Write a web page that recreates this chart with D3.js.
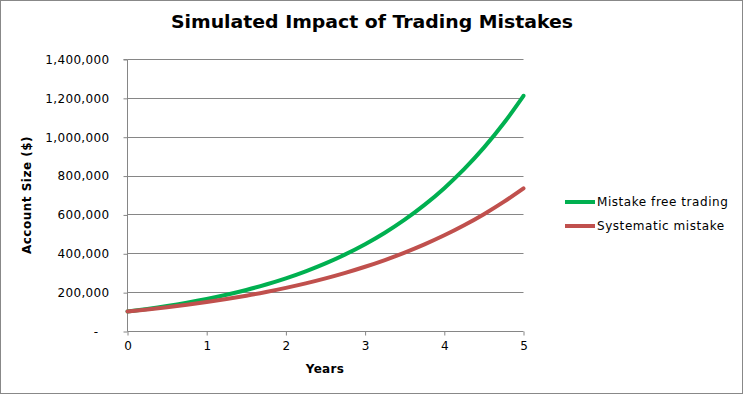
<!DOCTYPE html>
<html><head><meta charset="utf-8">
<script src="https://cdn.jsdelivr.net/npm/d3@7"></script>
<style>body{margin:0;background:#fff}svg{display:block}</style>
</head><body>
<svg id="c" width="745" height="395"></svg>
<script>
const years = [0,0.25,0.5,0.75,1,1.25,1.5,1.75,2,2.25,2.5,2.75,3,3.25,3.5,3.75,4,4.25,4.5,4.75,5];
const mistakeFree = [100000,113300,128300,145400,164700,186500,211300,239400,271200,307200,348000,394200,446500,505800,573000,649100,735300,832900,943600,1068900,1210800];
const systematic = [100000,110500,122100,134900,149000,164600,181800,200900,222000,245200,270900,299300,330700,365300,403600,445900,492600,544300,601300,664300,733900];
const yTicks = [0,200000,400000,600000,800000,1000000,1200000,1400000];
const xTicks = [0,1,2,3,4,5];
const seriesNames = ["Mistake free trading","Systematic mistake"];
const colors = ["#00B050","#C0504D"];

const svg = d3.select("#c");
const font = "Verdana, 'DejaVu Sans', sans-serif";
svg.append("rect").attr("x",0.5).attr("y",0.5).attr("width",742).attr("height",393)
  .attr("fill","#fff").attr("stroke","#888888");

const x = d3.scaleLinear().domain([0,5]).range([127.5,523.5]);
const y = d3.scaleLinear().domain([0,1400000]).range([331,59]);

// gridlines
svg.append("g").selectAll("line").data(yTicks.slice(1)).join("line")
  .attr("x1",127.5).attr("x2",523.5)
  .attr("y1",d=>Math.round(y(d))+0.5).attr("y2",d=>Math.round(y(d))+0.5)
  .attr("stroke","#868686");

// y axis
const yAxis = d3.axisLeft(y).tickValues(yTicks).tickSize(4).tickPadding(14)
  .tickFormat(d=> d===0 ? "-" : d3.format(",")(d));
const gy = svg.append("g").attr("transform","translate(127.5,0.5)").call(yAxis);
gy.select(".domain").attr("stroke","#868686").attr("d","M-4,"+y(1400000)+"H0V"+y(0));
gy.selectAll(".tick line").attr("stroke","#868686");
gy.selectAll("text").attr("font-family",font).attr("font-size",12).attr("fill","#000").attr("letter-spacing",0.35);
gy.selectAll(".tick").filter(d=>d===0).select("text").attr("dx",-11);

// x axis
const xAxis = d3.axisBottom(x).tickValues(xTicks).tickSize(4).tickPadding(6).tickFormat(d3.format("d"));
const gx = svg.append("g").attr("transform","translate(0,331.5)").call(xAxis);
gx.select(".domain").attr("stroke","#868686").attr("d","M127.5,0H523.5");
gx.selectAll(".tick line").attr("stroke","#868686");
gx.selectAll("text").attr("font-family",font).attr("font-size",12).attr("fill","#000");

// lines
const line = d3.line().x(d=>x(d[0])).y(d=>y(d[1])).curve(d3.curveMonotoneX);
[mistakeFree, systematic].forEach((s,i)=>{
  svg.append("path").datum(years.map((t,j)=>[t,s[j]]))
    .attr("fill","none").attr("stroke",colors[i]).attr("stroke-width",4)
    .attr("stroke-linecap","round").attr("d",line);
});

// title
svg.append("text").attr("x",372).attr("y",28).attr("text-anchor","middle")
  .attr("font-family","Tahoma, 'DejaVu Sans', sans-serif").attr("font-weight","bold").attr("font-size",18)
  .attr("textLength",402).attr("lengthAdjust","spacingAndGlyphs")
  .text("Simulated Impact of Trading Mistakes");

// axis titles
svg.append("text").attr("x",325).attr("y",373).attr("text-anchor","middle")
  .attr("font-family",font).attr("font-weight","bold").attr("font-size",12).attr("letter-spacing",0.3).text("Years");
svg.append("text").attr("transform","translate(31,195) rotate(-90)").attr("text-anchor","middle")
  .attr("font-family",font).attr("font-weight","bold").attr("font-size",12).attr("letter-spacing",0.5).text("Account Size ($)");

// legend
const lg = svg.append("g");
seriesNames.forEach((n,i)=>{
  const ly = 202 + i*24;
  lg.append("line").attr("x1",565).attr("x2",595).attr("y1",ly).attr("y2",ly)
    .attr("stroke",colors[i]).attr("stroke-width",4);
  lg.append("text").attr("x",597).attr("y",ly+4).attr("font-family",font).attr("font-size",12)
    .attr("letter-spacing",0.55).text(n);
});
</script>
</body></html>
